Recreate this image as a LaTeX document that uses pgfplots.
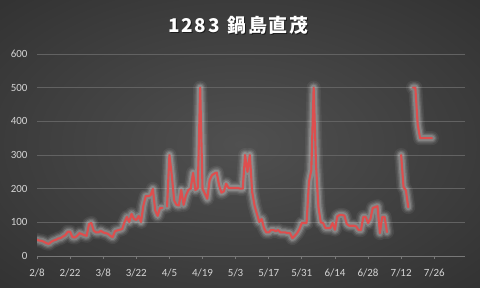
\documentclass[border=0pt]{standalone}
\usepackage{pgfplots}
\pgfplotsset{compat=1.18}
\usepackage{pgfplotstable}
\usepackage{fontspec}
\setmainfont{Carlito}
\newfontfamily\cjk{Noto Sans CJK JP}[LetterSpace=9]

\definecolor{bginner}{RGB}{80,80,80}
\definecolor{bgouter}{RGB}{30,30,30}
\definecolor{linered}{RGB}{222,78,78}
\definecolor{gridgray}{RGB}{98,98,98}
\definecolor{axisgray}{RGB}{120,120,120}
\definecolor{ticktext}{RGB}{212,212,212}

% dark radial backdrop
\pgfdeclareradialshading{chartbg}{\pgfpoint{0bp}{0bp}}{color(0bp)=(bginner); color(60bp)=(bgouter)}

% daily ranking, day 0 = 2/8 (nan = no data)
\pgfplotstableread{
d v
0 48
1 46
2 45
3 42
4 38
5 36
6 42
7 46
8 48
9 52
10 53
11 58
12 62
13 72
14 72
15 56
16 55
17 60
18 68
19 65
20 62
21 60
22 95
23 98
24 75
25 70
26 70
27 75
28 70
29 68
30 66
31 60
32 56
33 74
34 76
35 78
36 80
37 100
38 116
39 101
40 125
41 110
42 107
43 119
44 101
45 150
46 178
47 178
48 180
49 199
50 135
51 119
52 142
53 143
54 nan
55 147
56 300
57 240
58 165
59 152
60 150
61 196
62 152
63 180
64 196
65 200
66 247
67 196
68 202
69 500
70 200
71 185
72 170
73 225
74 240
75 245
76 248
77 210
78 188
79 192
80 215
81 202
82 202
83 202
84 202
85 202
86 200
87 200
88 300
89 250
90 300
91 190
92 150
93 125
94 101
95 110
96 83
97 70
98 70
99 77
100 77
101 74
102 77
103 70
104 70
105 70
106 68
107 68
108 53
109 60
110 68
111 80
112 98
113 98
114 98
115 220
116 255
117 500
118 270
119 146
120 100
121 98
122 83
123 83
124 83
125 98
126 78
127 118
128 122
129 122
130 120
131 95
132 90
133 90
134 90
135 88
136 77
137 77
138 116
139 116
140 98
141 110
142 143
143 145
144 148
145 68
146 116
147 116
148 71
149 nan
150 nan
151 nan
152 nan
153 nan
154 300
155 205
156 195
157 145
158 nan
159 500
160 500
161 390
162 350
163 350
164 350
165 350
166 350
167 350
}\ranking

\newcommand\charttitle{\cjk\bfseries\fontsize{19}{22}\selectfont 1283 \hspace{2bp}鍋島直茂}

\begin{document}
\begin{tikzpicture}
\shade[shading=chartbg] (0,0) rectangle (480bp,288bp);

\begin{axis}[
  at={(37bp,32bp)}, anchor=south west,
  scale only axis, width=428bp, height=202bp,
  xmin=0, xmax=181, ymin=0, ymax=600,
  unbounded coords=jump,
  axis x line*=bottom, axis y line*=left,
  x axis line style={draw=axisgray, line width=0.8bp},
  y axis line style={draw=none},
  ytick={0,100,...,600},
  xtick={0,14,...,168},
  xticklabels={2/8,2/22,3/8,3/22,4/5,4/19,5/3,5/17,5/31,6/14,6/28,7/12,7/26},
  xtick align=outside,
  major tick length=3bp,
  xtick style={draw=axisgray, line width=0.8bp},
  ytick style={draw=none},
  ymajorgrids,
  major grid style={draw=gridgray, line width=0.8bp},
  tick label style={font=\fontsize{11}{12}\selectfont, text=ticktext},
  yticklabel style={xshift=-6bp},
  xticklabel style={yshift=-6bp},
  /pgf/number format/assume math mode=true,
  every axis plot/.append style={line join=round, line cap=round},
]
% soft glow under the line
\addplot[white, opacity=0.06, line width=14bp] table[x=d, y=v] {\ranking};
\addplot[white, opacity=0.08, line width=11bp] table[x=d, y=v] {\ranking};
\addplot[white, opacity=0.12, line width=8.5bp] table[x=d, y=v] {\ranking};
\addplot[white, opacity=0.16, line width=6bp] table[x=d, y=v] {\ranking};
% the ranking line
\addplot[linered, line width=2.1bp] table[x=d, y=v] {\ranking};
\end{axis}

% title with a soft drop shadow
\node[text=black, opacity=0.55] at (239.3bp,262.2bp) {\charttitle};
\node[text=white] at (238.5bp,263bp) {\charttitle};
\end{tikzpicture}
\end{document}
